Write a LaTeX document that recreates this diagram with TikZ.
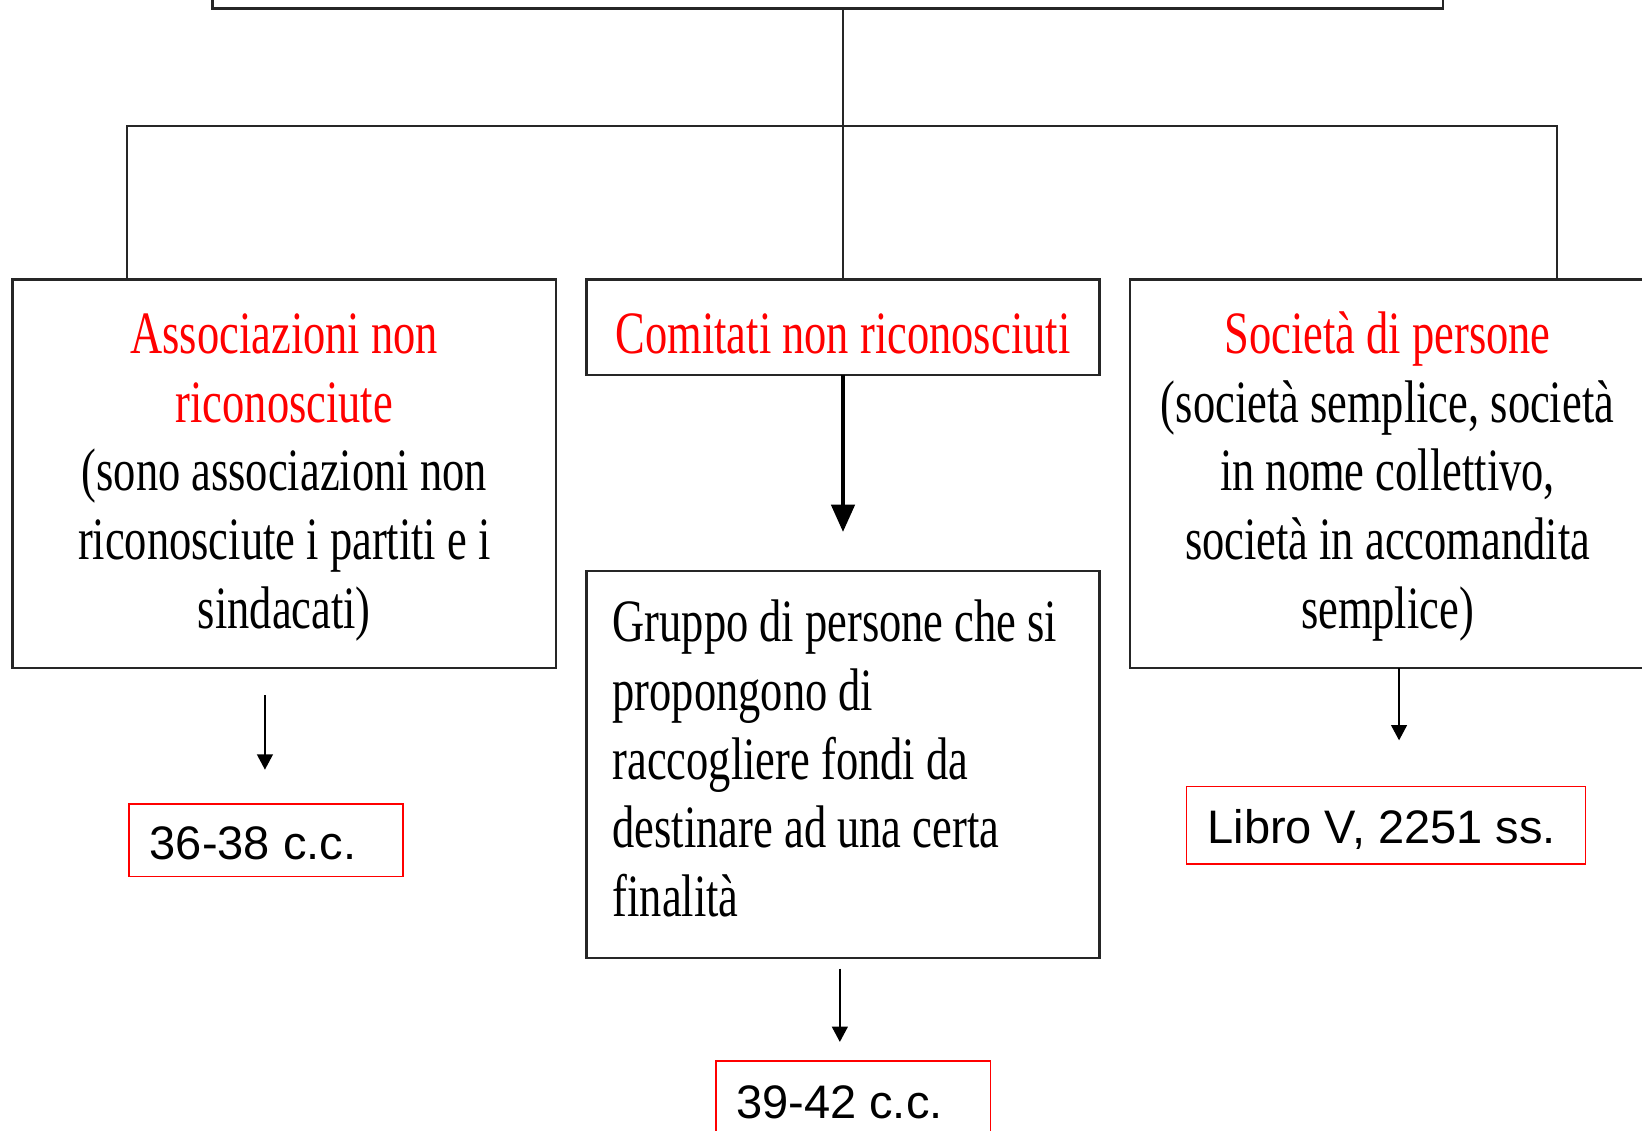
\documentclass[tikz,border=0pt]{standalone}
\usepackage{fontspec}
\newfontfamily\tnr{Liberation Serif}[FakeStretch=0.74]
\newfontfamily\arl{Liberation Sans}
\usetikzlibrary{arrows.meta}
% width, height, setup, top skip, content
\newcommand\cellbox[5]{\parbox[c][#2][t]{#1}{#3\hrule height0pt width0pt\relax\prevdepth=0pt\vskip#4\relax #5\par}}
\newcommand\serifsetup{\tnr\fontsize{28.7pt}{32.8pt}\selectfont}
\newcommand\sanssetup{\arl\fontsize{22.45pt}{25pt}\selectfont\raggedright\leftskip=10pt}
\tikzset{
  blackbox/.style={draw=black!85, line width=1.1pt, inner sep=0pt, outer sep=0pt},
  redbox/.style={draw=red, line width=0.8pt, inner sep=0pt, outer sep=0pt},
  link/.style={draw=black!85, line width=1pt},
  thinarrow/.style={draw=black, line width=1pt, -{Triangle[length=7.3pt,width=7.5pt]}},
  thickarrow/.style={draw=black, line width=2pt, -{Triangle[length=13pt,width=11pt]}},
}
\begin{document}
\begin{tikzpicture}[x=0.5pt,y=-0.5pt]
\useasboundingbox (0,0) rectangle (1568,1080);
% top box (mostly off the page)
\node[blackbox, minimum width=587.5pt, minimum height=50pt] (top) at (790.5,-42) {};
% level boxes
\node[blackbox] (assoc) at (271.5,452.5) {\cellbox{259.5pt}{185.5pt}{\serifsetup\centering}{2.45pt}{{\color{red}Associazioni non\\riconosciute}\\(sono associazioni non\\riconosciute i partiti e i\\sindacati)}};
\node[blackbox] (com) at (805,312.5) {\cellbox{245pt}{45.5pt}{\serifsetup\centering}{2.6pt}{\color{red}Comitati non riconosciuti}};
\node[blackbox] (soc) at (1325,452.5) {\cellbox{246pt}{185.5pt}{\serifsetup\centering}{2.45pt}{{\color{red}Società di persone}\\(società semplice, società\\in nome collettivo,\\società in accomandita\\semplice)}};
\node[blackbox] (grp) at (805,730) {\cellbox{245pt}{185pt}{\serifsetup\raggedright\leftskip=12.5pt}{1.1pt}{Gruppo di persone che si\\propongono di\\raccogliere fondi da\\destinare ad una certa\\finalità}};
% red reference boxes
\node[redbox] (lib1) at (254,802.5) {\cellbox{131pt}{34.5pt}{\sanssetup}{1.6pt}{36-38 c.c.}};
\node[redbox] (lib2) at (1323.5,788) {\cellbox{190.5pt}{37pt}{\sanssetup}{2.2pt}{Libro V, 2251 ss.}};
\node[redbox] (lib3) at (815,1047.5) {\cellbox{131pt}{34.5pt}{\sanssetup\leftskip=9.5pt}{2.5pt}{39-42 c.c.}};
% tree connectors
\coordinate (barL) at (121,120);
\coordinate (barR) at (1487,120);
\draw[link] (top.south -| com.north) -- (com.north);
\draw[link] (barL |- assoc.north) -- (barL) -- (barR) -- (barR |- soc.north);
% arrows
\coordinate (thickEnd) at (805,508);
\draw[thickarrow] (com.south) -- (thickEnd);
\coordinate (la1) at (253,664);
\coordinate (la2) at (253,735);
\draw[thinarrow] (la1) -- (la2);
\coordinate (ra2) at (1336,707);
\draw[thinarrow] (soc.south -| ra2) -- (ra2);
\coordinate (ma1) at (802,925);
\coordinate (ma2) at (802,995);
\draw[thinarrow] (ma1) -- (ma2);
\end{tikzpicture}
\end{document}
